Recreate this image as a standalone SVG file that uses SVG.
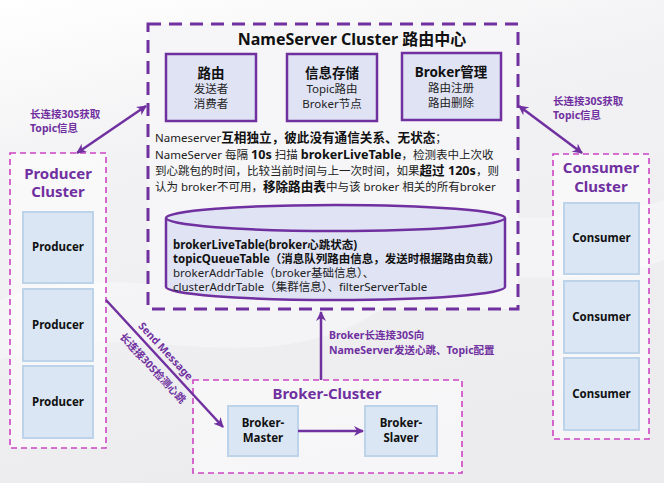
<svg xmlns="http://www.w3.org/2000/svg" width="664" height="483" viewBox="0 0 664 483">
<defs>
<linearGradient id="bg" x1="0" y1="0" x2="0.3" y2="1">
<stop offset="0" stop-color="#ffffff"/>
<stop offset="0.35" stop-color="#f2f2f4"/>
<stop offset="1" stop-color="#ececef"/>
</linearGradient>
<marker id="ah" viewBox="0 0 10 10" refX="9" refY="5" markerWidth="4" markerHeight="4" orient="auto-start-reverse" markerUnits="strokeWidth">
<path d="M0,0 L10,5 L0,10 L3,5 Z" fill="#7030A0"/>
</marker>
<style>
.t{font-family:"Noto Sans","Noto Sans CJK SC",sans-serif}
.nsbox{fill:#f6f6f8;stroke:#7030A0;stroke-width:3;stroke-dasharray:13 8}
.clu{fill:#ffffff;fill-opacity:0.55;stroke:#cc44c4;stroke-width:1.6;stroke-dasharray:6 4}
.fn{fill:#dfe3f4;stroke:#7030A0;stroke-width:2.5}
.node{fill:#dae6f3;stroke:#bcd3ea;stroke-width:2}
.nl{font-size:11.5px;font-weight:bold;fill:#111;text-anchor:middle}
.ct{font-size:15px;font-weight:bold;fill:#7030A0;text-anchor:middle}
.lbl{font-size:10.5px;font-weight:bold;fill:#7030A0}
.con{stroke:#7030A0;stroke-width:2.5;fill:none}
.b{font-weight:bold;font-size:12.6px;fill:#111}
</style>
</defs>
<rect x="0" y="0" width="664" height="483" fill="url(#bg)"/>
<path d="M0,300 C120,250 260,330 380,250 C470,190 560,240 664,200 L664,260 C560,300 470,250 380,310 C260,390 120,310 0,360 Z" fill="#ffffff" opacity="0.35"/>

<g id="nameserver">
<rect class="nsbox" x="148" y="24" width="370" height="285"/>
<text class="t" x="352" y="45" font-size="16" font-weight="bold" fill="#111" text-anchor="middle">NameServer Cluster 路由中心</text>
</g>

<g id="fn-route">
<rect class="fn" x="166" y="54" width="90" height="67"/>
<text class="t" x="211" y="78" font-size="13.5" font-weight="bold" fill="#111" text-anchor="middle">路由</text>
<text class="t" x="211" y="93" font-size="11.5" fill="#222" text-anchor="middle">发送者</text>
<text class="t" x="211" y="108" font-size="11.5" fill="#222" text-anchor="middle">消费者</text>
</g>
<g id="fn-store">
<rect class="fn" x="287" y="54" width="90" height="67"/>
<text class="t" x="332" y="78" font-size="13.5" font-weight="bold" fill="#111" text-anchor="middle">信息存储</text>
<text class="t" x="332" y="93" font-size="11.5" fill="#222" text-anchor="middle">Topic路由</text>
<text class="t" x="332" y="108" font-size="11.5" fill="#222" text-anchor="middle">Broker节点</text>
</g>
<g id="fn-broker">
<rect class="fn" x="402" y="53" width="99" height="67"/>
<text class="t" x="451" y="77" font-size="13.5" font-weight="bold" fill="#111" text-anchor="middle">Broker管理</text>
<text class="t" x="451" y="92" font-size="11.5" fill="#222" text-anchor="middle">路由注册</text>
<text class="t" x="451" y="107" font-size="11.5" fill="#222" text-anchor="middle">路由删除</text>
</g>

<g id="desc" class="t" font-size="11.5" fill="#222">
<text x="155" y="142">Nameserver<tspan class="b">互相独立，彼此没有通信关系、无状态</tspan>；</text>
<text x="155" y="159">NameServer 每隔 <tspan class="b">10s</tspan> 扫描 <tspan class="b">brokerLiveTable</tspan>，检测表中上次收</text>
<text x="155" y="175">到心跳包的时间，比较当前时间与上一次时间，如果<tspan class="b">超过 120s</tspan>，则</text>
<text x="155" y="191">认为 broker不可用，<tspan class="b">移除路由表</tspan>中与该 broker 相关的所有broker</text>
</g>

<g id="db">
<path d="M166,218 A169.5,13 0 0 1 505,218 L505,287 A169.5,13 0 0 1 166,287 Z" fill="#dfe3f4" stroke="#7030A0" stroke-width="2.5"/>
<path d="M166,218 A169.5,13 0 0 0 505,218" fill="none" stroke="#7030A0" stroke-width="2.5"/>
<g class="t" font-size="11.5" fill="#222">
<text x="173" y="249" font-weight="bold" fill="#111">brokerLiveTable(broker心跳状态)</text>
<text x="173" y="263" font-weight="bold" fill="#111">topicQueueTable（消息队列路由信息，发送时根据路由负载）</text>
<text x="173" y="277">brokerAddrTable（broker基础信息）、</text>
<text x="173" y="291">clusterAddrTable（集群信息）、filterServerTable</text>
</g>
</g>

<g id="producer-cluster">
<rect class="clu" x="10" y="153" width="96" height="295"/>
<text class="t ct" x="58" y="179">Producer</text>
<text class="t ct" x="58" y="197">Cluster</text>
</g>
<g id="producer1"><rect class="node" x="23" y="212" width="70" height="71"/><text class="t nl" x="58" y="251">Producer</text></g>
<g id="producer2"><rect class="node" x="23" y="289" width="70" height="72"/><text class="t nl" x="58" y="329">Producer</text></g>
<g id="producer3"><rect class="node" x="23" y="366" width="70" height="72"/><text class="t nl" x="58" y="406">Producer</text></g>

<g id="consumer-cluster">
<rect class="clu" x="553" y="154" width="96" height="285"/>
<text class="t ct" x="601" y="173">Consumer</text>
<text class="t ct" x="601" y="192">Cluster</text>
</g>
<g id="consumer1"><rect class="node" x="564" y="203" width="75" height="71"/><text class="t nl" x="601.5" y="242">Consumer</text></g>
<g id="consumer2"><rect class="node" x="564" y="281" width="75" height="72"/><text class="t nl" x="601.5" y="321">Consumer</text></g>
<g id="consumer3"><rect class="node" x="564" y="358" width="75" height="72"/><text class="t nl" x="601.5" y="398">Consumer</text></g>

<g id="broker-cluster">
<rect class="clu" x="193" y="380" width="269" height="93"/>
<text class="t ct" x="327" y="399">Broker-Cluster</text>
</g>
<g id="broker-master"><rect class="node" x="228" y="406" width="70" height="50"/><text class="t nl" x="263" y="427">Broker-</text><text class="t nl" x="263" y="442">Master</text></g>
<g id="broker-slaver"><rect class="node" x="365" y="406" width="72" height="50"/><text class="t nl" x="401" y="427">Broker-</text><text class="t nl" x="401" y="442">Slaver</text></g>

<g id="connectors">
<line class="con" x1="146" y1="106" x2="77" y2="153" marker-start="url(#ah)" marker-end="url(#ah)"/>
<line class="con" x1="519" y1="106" x2="582" y2="153" marker-start="url(#ah)" marker-end="url(#ah)"/>
<line class="con" x1="106" y1="300" x2="223" y2="427" marker-end="url(#ah)"/>
<line class="con" x1="321" y1="380" x2="321" y2="312" marker-end="url(#ah)"/>
<line class="con" x1="298" y1="431" x2="363" y2="431" marker-end="url(#ah)"/>
<text class="t lbl" x="30" y="118">长连接30S获取</text>
<text class="t lbl" x="30" y="132">Topic信息</text>
<text class="t lbl" x="553" y="105">长连接30S获取</text>
<text class="t lbl" x="553" y="119">Topic信息</text>
<text class="t lbl" x="329" y="339">Broker长连接30S向</text>
<text class="t lbl" x="329" y="354">NameServer发送心跳、Topic配置</text>
<text class="t lbl" transform="translate(166,351) rotate(47.1)" text-anchor="middle" dy="4">Send Message</text>
<text class="t lbl" transform="translate(153,368) rotate(47.1)" text-anchor="middle" dy="4">长连接30S检测心跳</text>
</g>
</svg>
